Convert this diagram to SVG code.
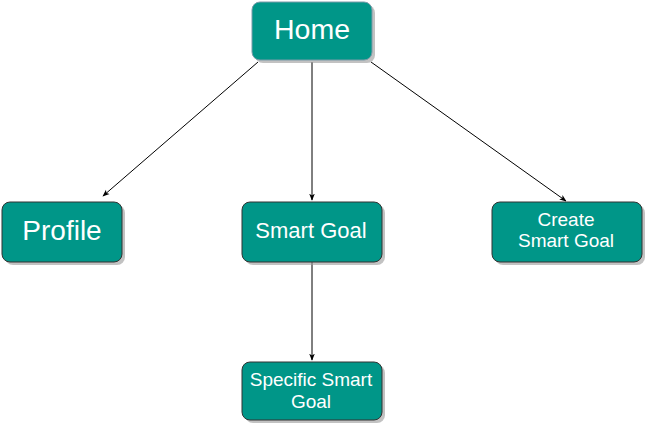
<svg xmlns="http://www.w3.org/2000/svg" width="646" height="427" viewBox="0 0 646 427">
<style>
.box{fill:#009688;stroke:#333;stroke-width:1}
.home{fill:#009688;stroke:#7a9aa8;stroke-width:1}
.sh{fill:#999;opacity:0.6}
text{font-family:"Liberation Sans",Arial,sans-serif;fill:#fff;text-anchor:middle}
.e{stroke:#000;stroke-width:1;fill:none;marker-end:url(#a)}
</style>
<defs>
<marker id="a" viewBox="0 0 10 10" refX="9" refY="5" markerWidth="7" markerHeight="7" orient="auto" markerUnits="userSpaceOnUse">
<path d="M0,1 L10,5 L0,9 L2.5,5 Z" fill="#000"/>
</marker>
</defs>
<rect width="646" height="427" fill="#fff"/>
<g id="edges">
<path class="e" d="M258,62 L103,196"/>
<path class="e" d="M312,62 L312,200"/>
<path class="e" d="M371,62 L566,201"/>
<path class="e" d="M312,262 L312,360"/>
</g>
<g id="home">
<rect class="sh" x="255" y="5" width="120" height="58" rx="8"/>
<rect class="home" x="252" y="2" width="120" height="58" rx="8"/>
<text x="312" y="39" font-size="28.5">Home</text>
</g>
<g id="profile">
<rect class="sh" x="5" y="205" width="120" height="60" rx="8"/>
<rect class="box" x="2" y="202" width="120" height="60" rx="8"/>
<text x="62" y="240" font-size="28">Profile</text>
</g>
<g id="smartgoal">
<rect class="sh" x="245" y="205" width="140" height="60" rx="8"/>
<rect class="box" x="242" y="202" width="140" height="60" rx="8"/>
<text x="311" y="238" font-size="22">Smart Goal</text>
</g>
<g id="create">
<rect class="sh" x="495" y="205" width="150" height="60" rx="8"/>
<rect class="box" x="492" y="202" width="150" height="60" rx="8"/>
<text x="566" y="226" font-size="19">Create</text>
<text x="566" y="247" font-size="19">Smart Goal</text>
</g>
<g id="specific">
<rect class="sh" x="245" y="365" width="140" height="58" rx="8"/>
<rect class="box" x="242" y="362" width="140" height="58" rx="8"/>
<text x="311" y="386" font-size="19">Specific Smart</text>
<text x="311" y="408" font-size="19">Goal</text>
</g>
</svg>
